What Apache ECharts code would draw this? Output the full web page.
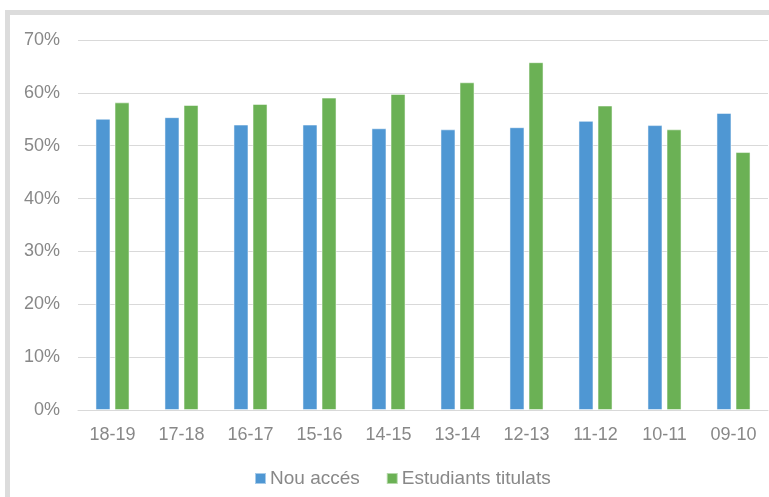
<!DOCTYPE html>
<html>
<head>
<meta charset="utf-8">
<script src="https://cdn.jsdelivr.net/npm/echarts@6/dist/echarts.min.js"></script>
<style>
html,body{margin:0;padding:0;background:#fff;overflow:hidden;}
#frame{position:absolute;left:5px;top:10px;width:800px;height:520px;border-left:5px solid #dcdcdc;border-top:5px solid #dcdcdc;box-sizing:border-box;}
#chart{position:absolute;left:0;top:0;width:769px;height:497px;}
</style>
</head>
<body>
<div id="frame"></div>
<div id="chart"></div>
<script>
var categories = ['18-19','17-18','16-17','15-16','14-15','13-14','12-13','11-12','10-11','09-10'];
var nouAcces = [55.1, 55.4, 54.0, 54.0, 53.3, 53.1, 53.5, 54.7, 53.9, 56.2];
var titulats = [58.2, 57.7, 57.9, 59.1, 59.8, 62.0, 65.8, 57.6, 53.1, 48.8];
var seriesNames = ['Nou accés', 'Estudiants titulats'];

var chart = echarts.init(document.getElementById('chart'), null, {renderer:'canvas'});
var fontFam = '"Liberation Sans", Arial, sans-serif';
chart.setOption({
  animation: false,
  backgroundColor: 'transparent',
  grid: {left: 78, right: 1, top: 40, bottom: 87, containLabel: false},
  legend: {
    data: seriesNames,
    left: 254, top: 469, padding: 0,
    itemWidth: 11, itemHeight: 11, itemGap: 26,
    icon: 'rect',
    textStyle: {color: '#888888', fontSize: 19, fontFamily: fontFam, padding: [0,0,0,-1]}
  },
  xAxis: {
    type: 'category',
    data: categories,
    axisLine: {lineStyle: {color: '#d9d9d9', width: 1}},
    axisTick: {show: false},
    axisLabel: {color: '#888888', fontSize: 18, fontFamily: fontFam, margin: 16}
  },
  yAxis: {
    type: 'value',
    min: 0, max: 70, interval: 10,
    axisLine: {show: false},
    axisTick: {show: false},
    axisLabel: {color: '#888888', fontSize: 18, fontFamily: fontFam, margin: 18, formatter: '{value}%'},
    splitLine: {lineStyle: {color: '#d9d9d9', width: 1}}
  },
  series: [
    {name: seriesNames[0], type: 'bar', data: nouAcces, barWidth: 15, barGap: '27%',
     itemStyle: {color: '#4f97d3', borderColor: 'rgba(255,255,255,0.5)', borderWidth: 1}},
    {name: seriesNames[1], type: 'bar', data: titulats, barWidth: 15,
     itemStyle: {color: '#6bb155', borderColor: 'rgba(255,255,255,0.5)', borderWidth: 1}}
  ]
});
</script>
</body>
</html>
